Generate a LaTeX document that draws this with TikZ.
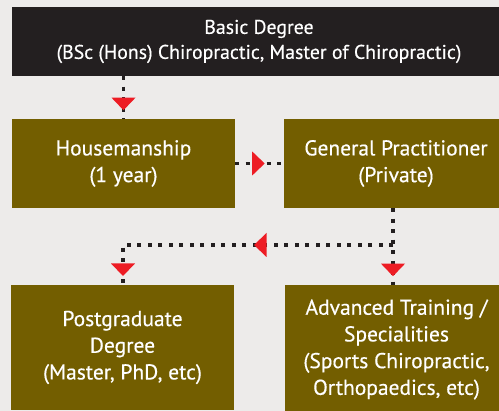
\documentclass[tikz,border=0pt]{standalone}
\usepackage{fontspec}
\setmainfont{PT Sans}[FakeBold=0.4]
\usetikzlibrary{decorations.markings}
\definecolor{bg}{HTML}{EDEBEA}
\definecolor{olive}{HTML}{735E00}
\definecolor{dark}{HTML}{231F20}
\definecolor{trired}{HTML}{ED1C24}
\tikzset{
  box/.style={fill=olive, text=white, align=center, inner sep=0pt, font=\fontsize{21.5}{26.7}\selectfont},
  topbox/.style={fill=dark, text=white, align=center, inner sep=0pt, font=\fontsize{19.8}{25}\selectfont},
  conn/.style={draw=dark, line width=3.6pt, dash pattern=on 4pt off 6.5pt},
  tri/.style={postaction={decorate, decoration={markings,
     mark=at position #1 with {\fill[trired, solid] (0,0) -- (-12.5,12) -- (-12.5,-12) -- cycle;}}}}
}
\begin{document}
\begin{tikzpicture}[x=1pt, y=-1pt]
\useasboundingbox (0,0) rectangle (499,411);
\clip (0,0) rectangle (499,411);
\fill[bg] (0,0) rectangle (499,411);
\node[topbox, minimum width=494pt, minimum height=69pt] (basic) at (259,41.5)
  {Basic Degree\\(BSc (Hons) Chiropractic, Master of Chiropractic)};
\node[box, minimum width=223pt, minimum height=89pt] (house) at (123.5,163.5)
  {Housemanship\\(1 year)};
\node[box, minimum width=224pt, minimum height=89pt] (gp) at (396,163.5)
  {General Practitioner\\(Private)};
\node[box, minimum width=223pt, minimum height=125pt] (pg) at (122.5,347.5)
  {Postgraduate\\Degree\\(Master, PhD, etc)};
\node[box, minimum width=223pt, minimum height=129pt] (adv) at (396.5,349.5)
  {Advanced Training /\\Specialities\\(Sports Chiropractic,\\Orthopaedics, etc)};
\coordinate (jr) at (393,245);
\coordinate (jl) at (123,245);
\draw[conn, tri=34pt] (house.north |- basic.south) -- (house.north);
\draw[conn, tri=29.5pt] (house.east) -- (gp.west);
\draw[conn, tri=68pt] (gp.south -| jr) -- (jr) -- (jr |- adv.north);
\draw[conn, tri=139pt, tri=301pt] (jr) -- (jl) -- (jl |- pg.north);
\end{tikzpicture}
\end{document}
